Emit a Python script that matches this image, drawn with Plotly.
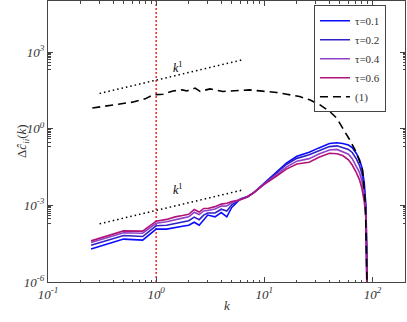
import math
import plotly.graph_objects as go

# wavenumber grid of the tau curves
k = [0.25, 0.5, 0.75, 1.0, 1.25, 1.5, 1.75, 2.0, 2.25, 2.5, 2.75, 3, 3.5, 4, 4.5, 5,
     6, 7, 8, 10, 13, 16, 20, 26, 32, 40, 47, 53, 60, 65, 71, 76, 80, 84, 87, 89, 90]

# log10 of delta c_ii(k) for each tau
tau01 = [-4.71, -4.32, -4.36, -3.93, -3.93, -3.86, -3.82, -3.78, -3.66, -3.78, -3.55, -3.38, -3.45,
         -3.28, -3.45, -3.08, -2.75, -2.66, -2.50, -2.12, -1.68, -1.35, -1.08, -0.92, -0.75, -0.58,
         -0.55, -0.58, -0.64, -0.74, -0.97, -1.22, -1.52, -2.12, -3.0, -4.5, -8]
tau02 = [-4.56, -4.18, -4.22, -3.80, -3.78, -3.70, -3.66, -3.60, -3.46, -3.56, -3.38, -3.30, -3.30,
         -3.15, -3.22, -2.98, -2.76, -2.65, -2.50, -2.14, -1.74, -1.40, -1.16, -1.02, -0.86, -0.70,
         -0.67, -0.73, -0.81, -0.93, -1.18, -1.45, -1.76, -2.35, -3.2, -4.7, -8]
tau04 = [-4.45, -4.07, -4.09, -3.70, -3.64, -3.55, -3.50, -3.45, -3.27, -3.36, -3.22, -3.20, -3.14,
         -3.03, -3.02, -2.90, -2.78, -2.66, -2.50, -2.16, -1.80, -1.50, -1.27, -1.17, -0.99, -0.83,
         -0.81, -0.89, -1.00, -1.17, -1.45, -1.72, -2.05, -2.60, -3.35, -4.85, -8]
tau06 = [-4.39, -4.00, -4.01, -3.62, -3.55, -3.45, -3.40, -3.35, -3.16, -3.26, -3.12, -3.12, -3.05,
         -2.95, -2.92, -2.85, -2.78, -2.67, -2.50, -2.18, -1.85, -1.58, -1.38, -1.31, -1.12, -0.96,
         -0.98, -1.05, -1.22, -1.42, -1.72, -2.00, -2.35, -2.85, -3.5, -5.0, -8]

# curve (1), dashed
k1 = [0.257, 0.339, 0.447, 0.601, 0.792, 0.938, 1.16, 1.43, 1.74, 1.93, 2.29, 2.55, 3.15, 4.15,
      5.0, 6.34, 7.35, 9.1, 11.2, 13.0, 16.1, 21.2, 26.3, 32.5, 40.1, 46.6, 52.9, 61.4, 71.2,
      80.9, 86.1, 90]
curve1 = [0.81, 0.90, 0.96, 1.04, 1.17, 1.33, 1.35, 1.48, 1.52, 1.48, 1.59, 1.46, 1.56, 1.46,
          1.48, 1.48, 1.52, 1.48, 1.46, 1.42, 1.35, 1.26, 1.13, 0.94, 0.68, 0.42, 0.03, -0.42,
          -0.94, -1.6, -3.0, -7]

# k^1 guide lines
guide_k = [0.3, 6.3]
guide_hi = [24, 500]
guide_lo = [1.9e-4, 4.0e-3]
k_ref = 1

names = ["τ=0.1", "τ=0.2", "τ=0.4", "τ=0.6"]
series = [tau01, tau02, tau04, tau06]
colors = ["#0a0aff", "#3020c8", "#9040c8", "#b01478"]

serif = "Liberation Serif"

fig = go.Figure()

fig.add_trace(go.Scatter(x=[k_ref, k_ref], y=[1e-6, 1e5], mode="lines",
                         line=dict(color="red", width=1.3, dash="2px,2px"), showlegend=False))
fig.add_trace(go.Scatter(x=guide_k, y=guide_hi, mode="lines",
                         line=dict(color="black", width=1.5, dash="1.5px,3px"), showlegend=False))
fig.add_trace(go.Scatter(x=guide_k, y=guide_lo, mode="lines",
                         line=dict(color="black", width=1.5, dash="1.5px,3px"), showlegend=False))

for name, s, c in zip(names, series, colors):
    fig.add_trace(go.Scatter(x=k, y=[10 ** v for v in s], mode="lines", name=name,
                             line=dict(color=c, width=1.6)))

fig.add_trace(go.Scatter(x=k1, y=[10 ** v for v in curve1], mode="lines", name="(1)",
                         line=dict(color="black", width=1.6, dash="8px,5px")))

for yy in [2.38, -2.38]:
    fig.add_annotation(x=math.log10(1.6), y=yy, text="<i>k</i><sup>1</sup>", showarrow=False,
                       font=dict(family=serif, size=12, color="black"))

# axis titles
fig.add_annotation(xref="paper", yref="paper", x=0.5, y=0, yshift=-33, text="<i>k</i>",
                   showarrow=False, font=dict(family=serif, size=13, color="#333"))
fig.add_annotation(xref="paper", yref="paper", x=0, y=0.5, xshift=-36, textangle=-90,
                   text="Δ<i>ĉ</i><sub><i>ii</i></sub>(<i>k</i>)",
                   showarrow=False, font=dict(family=serif, size=13, color="#333"))

x_minor = [m * 10 ** e for e in (-1, 0, 1) for m in range(2, 10)] + [200]
y_minor = [m * 10 ** e for e in (-7, -4, -1, 2) for m in range(2, 10)]

axis_style = dict(type="log", showgrid=False, zeroline=False, showline=True, linecolor="#444",
                  linewidth=1, mirror="allticks", ticks="inside", ticklen=5, tickcolor="#444",
                  automargin=False,
                  tickfont=dict(family=serif, size=13, color="#333", style="italic"))

fig.update_xaxes(range=[-1, 2.301], tickvals=[0.1, 1, 10, 100],
                 ticktext=["10<sup>-1</sup>", "10<sup>0</sup>", "10<sup>1</sup>", "10<sup>2</sup>"],
                 minor=dict(tickvals=x_minor, ticks="inside", ticklen=2.5, tickcolor="#444"),
                 **axis_style)
fig.update_yaxes(range=[-6, 5], tickvals=[1e-6, 1e-3, 1, 1e3],
                 ticktext=["10<sup>-6</sup>", "10<sup>-3</sup>", "10<sup>0</sup>", "10<sup>3</sup>"],
                 minor=dict(tickvals=y_minor, ticks="inside", ticklen=2.5, tickcolor="#444"),
                 **axis_style)

fig.update_layout(
    width=407, height=322,
    margin=dict(l=48, r=2, t=1, b=40),
    paper_bgcolor="white", plot_bgcolor="white",
    font=dict(family=serif, color="#333"),
    legend=dict(x=0.745, y=0.985, xanchor="left", yanchor="top",
                bgcolor="rgba(255,255,255,0)", bordercolor="#444", borderwidth=1, itemwidth=30,
                font=dict(family=serif, size=11, color="#333"), tracegroupgap=0),
)

# drop the default page margin so the figure sits at the window's corner
fig.write_html("out.html", config={"displayModeBar": False},
               post_script="document.body.style.margin='0';")
